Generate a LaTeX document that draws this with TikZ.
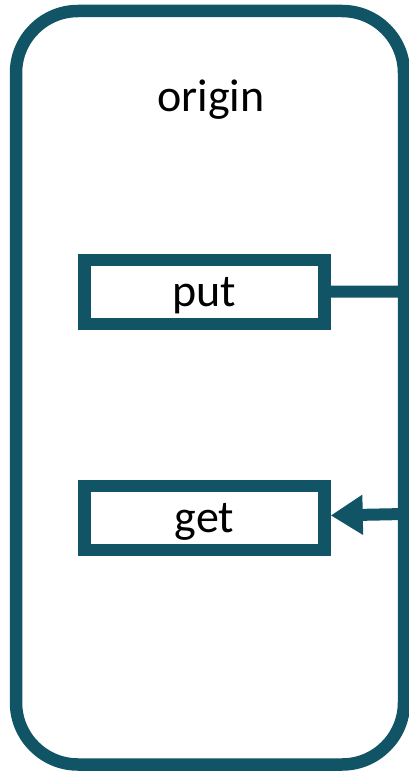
\documentclass[tikz,border=0pt]{standalone}
\usepackage{fontspec}
\setmainfont{Carlito}
\usetikzlibrary{positioning,arrows.meta}
\definecolor{boxteal}{HTML}{105466}

\begin{document}
\begin{tikzpicture}[x=1pt,y=-1pt,>={Triangle[length=32pt,width=38pt]},
  every node/.style={font=\fontsize{46}{50}\selectfont},
  opbox/.style={draw=boxteal,line width=12.5pt,minimum width=240pt,minimum height=64pt,
    inner sep=0pt,text depth=0pt},
  link/.style={draw=boxteal,line width=12pt}]
\useasboundingbox (0,0) rectangle (408,773);
\node (frame) [draw=boxteal,line width=12.5pt,rounded corners=62pt,outer sep=0pt,
  minimum width=388pt,minimum height=753.5pt] at (210,387.75) {};
\node (origin) at (211,100) {origin};
\node (put) [opbox] at (204.5,292) {put};
\node (get) [opbox,below=149.5pt of put] {get};
\coordinate (putout) at (404,291.5);
\coordinate (getin) at (404,514);
\draw[link] (put) -- (putout);
\draw[link,->] (getin) -- (get);
\end{tikzpicture}
\end{document}
